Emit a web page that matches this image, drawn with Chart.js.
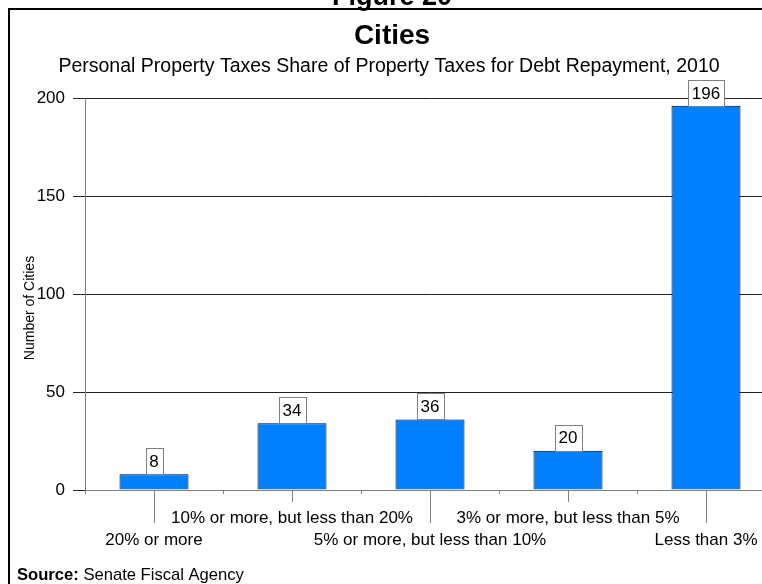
<!DOCTYPE html>
<html>
<head>
<meta charset="utf-8">
<script src="https://cdn.jsdelivr.net/npm/chart.js@4"></script>
<style>
  html, body { margin: 0; padding: 0; overflow: hidden; background: #fff; }
  #wrap { width: 800px; height: 584px; }
</style>
</head>
<body>
<div id="wrap"><canvas id="chart" width="800" height="584"></canvas></div>
<script>
// Data
const categories = [
    '20% or more',
    '10% or more, but less than 20%',
    '5% or more, but less than 10%',
    '3% or more, but less than 5%',
    'Less than 3%'
];
const cityCounts = [8, 34, 36, 20, 196];
const yTicks = [0, 50, 100, 150, 200];

const FONT = '"Liberation Sans", Arial, sans-serif';

// staggered labels: even ones go to the lower row
const xLabels = categories.map((c, i) => i % 2 === 0 ? ['', c] : [c]);

// frame, headings and source line
const decorations = {
    id: 'decorations',
    afterDraw(chart) {
        const ctx = chart.ctx;
        ctx.save();
        ctx.strokeStyle = '#000';
        ctx.lineWidth = 2;
        ctx.strokeRect(9, 9, 820, 620);

        ctx.fillStyle = '#000';
        ctx.textAlign = 'center';
        ctx.textBaseline = 'alphabetic';
        ctx.font = 'bold 27px ' + FONT;
        ctx.fillText('Figure 20', 392, 5);

        ctx.textBaseline = 'middle';
        ctx.font = 'bold 28px ' + FONT;
        ctx.fillText('Cities', 392, 36);
        ctx.font = '19.5px ' + FONT;
        ctx.fillText('Personal Property Taxes Share of Property Taxes for Debt Repayment, 2010', 389, 67);

        // y axis title
        ctx.save();
        ctx.translate(30, 308);
        ctx.rotate(-Math.PI / 2);
        ctx.font = '14px ' + FONT;
        ctx.fillText('Number of Cities', 0, 0);
        ctx.restore();

        ctx.textAlign = 'left';
        ctx.font = 'bold 16.6px ' + FONT;
        ctx.fillText('Source:', 17, 575);
        const w = ctx.measureText('Source:').width;
        ctx.font = '16.6px ' + FONT;
        ctx.fillText(' Senate Fiscal Agency', 17 + w, 575);

        // long tick lines under category labels
        const xs = chart.scales.x;
        const bottom = chart.chartArea.bottom;
        ctx.strokeStyle = '#808080';
        ctx.lineWidth = 1;
        categories.forEach((c, i) => {
            const px = Math.round(xs.getPixelForValue(i)) + 0.5;
            const len = i % 2 === 0 ? 33 : 12;
            ctx.beginPath();
            ctx.moveTo(px, bottom);
            ctx.lineTo(px, bottom + len);
            ctx.stroke();
        });
        ctx.restore();
    }
};

// boxed value labels sitting on top of each bar
const valueBoxes = {
    id: 'valueBoxes',
    afterDatasetsDraw(chart) {
        const ctx = chart.ctx;
        const meta = chart.getDatasetMeta(0);
        ctx.save();
        ctx.font = '17px ' + FONT;
        ctx.textAlign = 'center';
        ctx.textBaseline = 'middle';
        meta.data.forEach((bar, i) => {
            const txt = String(cityCounts[i]);
            const w = Math.round(ctx.measureText(txt).width + 8);
            const h = 26;
            const x = Math.round(bar.x - w / 2) + 0.5;
            const y = Math.round(bar.y - h) + 0.5;
            ctx.fillStyle = '#fff';
            ctx.fillRect(x, y, w, h);
            ctx.strokeStyle = '#808080';
            ctx.lineWidth = 1;
            ctx.strokeRect(x, y, w, h);
            ctx.fillStyle = '#000';
            ctx.fillText(txt, bar.x, bar.y - h / 2 + 1);
        });
        ctx.restore();
    }
};

new Chart(document.getElementById('chart'), {
    type: 'bar',
    data: {
        labels: xLabels,
        datasets: [{
            data: cityCounts,
            backgroundColor: '#0080ff',
            borderColor: '#000',
            borderWidth: 1,
            categoryPercentage: 1,
            barPercentage: 0.5
        }]
    },
    options: {
        responsive: false,
        animation: false,
        layout: { padding: { top: 98, right: 25, left: 0, bottom: 0 } },
        plugins: { legend: { display: false }, tooltip: { enabled: false } },
        scales: {
            x: {
                offset: true,
                grid: { drawOnChartArea: false, tickLength: 4, color: '#808080' },
                border: { color: '#808080' },
                ticks: {
                    color: '#000',
                    font: { family: FONT, size: 17, lineHeight: 1.25 },
                    padding: 14,
                    maxRotation: 0,
                    autoSkip: false
                },
                afterFit: (s) => { s.height = 94; }
            },
            y: {
                min: 0,
                max: 200,
                afterBuildTicks: (s) => { s.ticks = yTicks.map(v => ({ value: v })); },
                grid: { color: '#222', tickLength: 12, tickColor: '#222' },
                border: { color: '#808080' },
                ticks: { color: '#000', font: { family: FONT, size: 17 }, padding: 8 },
                afterFit: (s) => { s.width = 85; }
            }
        }
    },
    plugins: [decorations, valueBoxes]
});
</script>
</body>
</html>
